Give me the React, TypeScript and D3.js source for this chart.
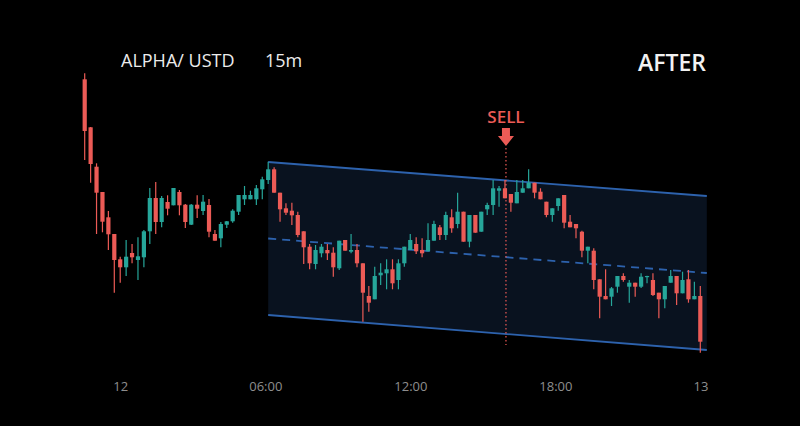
import React from "react";
import * as d3 from "d3";

// ---- Data (price units) ----
const opens = [320.7,272.7,233.3,208,182.7,166,140.7,132.7,147,140,142.7,168.7,202,178,198,194.7,208,195.3,175.3,195.3,
189,195,166,161.7,175.3,178.7,188.3,200.7,200.7,200.7,210.7,220,230.7,207.3,191.7,189.3,185,168.7,153.3,136,
146.7,150,147.3,131.7,160,148.3,150,136.7,104,100.7,124.7,126.7,130.7,120,136.7,150,156,150,148.7,159.3,
172.7,165,182.7,176,188.3,158.3,185,168.3,190.7,195,209.3,211.7,206,196.7,207.3,211.7,217.3,208.3,198.3,185,
194,205,178.3,176,168.3,149.3,149.3,120.7,104,103.3,113.3,124,113.3,117.3,113.3,123,120,107.3,100.7,117.3,
124,106.7,120.7,100.7,104];
const highs = [326.7,273,236.7,208,189,166,143.3,160,156,162.7,170,212,218,204,204.7,212,210,196,196,204.7,
205,201,170,178,179,190.7,205,214,209.3,215,223.3,238.3,232.7,207.3,196.7,197.3,188.3,168.7,156,155,
156,156,152.7,159.3,160,166,156,136.7,114,133.3,136.7,140.7,140.7,140.7,153.3,166,162.7,161.7,176.7,179.3,
175,188.3,190.7,207.3,188.3,185,185,188.3,197.3,220,214,220,206,220,220,230.7,217.3,211.7,198.3,191.7,
201.7,205,185,176,169.3,153.3,151.7,120.7,130.7,113,124,126.7,120,117.3,126.7,124.3,126.7,107.3,114,130,
124,128.3,130,118.3,114];
const lows = [240,217.3,166,167.7,150,107.3,117.3,124,136.7,120,132.7,156,166,172.7,184.7,194.7,184.7,172,175,182,
185,162.7,159.3,152.7,172,177.3,185,195,200.7,195,200.7,216,207.3,178.3,185,175,162.7,136,130.7,130.7,
142.7,140,123.3,130,149.3,146.7,132.7,78.3,88.3,100.7,115,110.7,110.7,110.7,133.3,150,146,142.7,148.7,159.3,
160,160,167.3,171.7,158.3,152.7,167.3,168.3,185,185,193.3,201.7,188.3,196.7,207.3,211.7,201.7,200.7,182.7,178.3,
189.3,171.7,172.7,161.7,142.7,136.7,110.7,81.7,100.7,94,107.3,118.3,97.3,103.3,112,116.7,104,81.7,91.7,117.3,
95,106.7,97.3,100.7,47.3];
const closes = [269,236,207.3,178.3,165.7,140,132.7,143.3,142.7,143.7,168.7,202,178,202,191.3,212,194.7,178,195.3,191.3,
198.3,168.3,159.3,176,178.7,189.3,205,205,205,211.7,220.7,230.7,207.3,190.7,187.3,184.7,165,152.7,136.7,150,
153.3,146.7,132.7,159.3,149.3,150,136.7,107.3,97.3,124,127.3,130.7,116.7,136.7,153.3,160,148.7,146.7,160,176,
165,185,171.7,188.3,158.3,185,167.3,188.3,195,211.7,211.7,201.7,197.3,208,211.7,217.3,207.3,200.7,185,191.7,
201.7,177.3,172.7,171.7,149.3,153.3,120,103.3,100.7,111.7,124,120,117.3,113.3,123.3,124,105,100.7,114,124,
106.7,120,100.7,104,58.3];

const tickLabels = ["12", "06:00", "12:00", "18:00", "13"];
const tickIndex = [6.1, 30.6, 55.1, 79.6, 104.1];

// descending channel (candle index, price)
const channelIdx = [31, 105.1];
const channelUpper = [238, 204];
const channelLower = [85, 50];

const sellIndex = 71;
const sellLineBottom = 55;

const W = 800;
const H = 426;

export default function App() {
  const n = opens.length;
  const x = d3.scaleLinear().domain([0, n - 1]).range([84.7, 700.3]);
  const y = d3.scaleLinear().domain([0, 400]).range([400, 0]);

  const up = "#26a69a";
  const down = "#ec5b56";
  const blue = "#2d62ad";
  const bodyW = 4.2;

  const mid = [
    (channelUpper[0] + channelLower[0]) / 2,
    (channelUpper[1] + channelLower[1]) / 2,
  ];

  const poly = [
    [x(channelIdx[0]), y(channelUpper[0])],
    [x(channelIdx[1]), y(channelUpper[1])],
    [x(channelIdx[1]), y(channelLower[1])],
    [x(channelIdx[0]), y(channelLower[0])],
  ];
  const line = d3.line<[number, number]>();

  const sx = x(sellIndex) + 1;

  return (
    <svg
      width={W}
      height={H}
      style={{ position: "absolute", left: 0, top: 0, background: "#000" }}
      fontFamily="'Open Sans', sans-serif"
    >
      <rect x={0} y={0} width={W} height={H} fill="#000" />

      {/* channel */}
      <path d={line(poly as any) + "Z"} fill="#09121f" />
      <line x1={x(channelIdx[0])} y1={y(channelUpper[0])} x2={x(channelIdx[1])} y2={y(channelUpper[1])} stroke={blue} strokeWidth={1.8} />
      <line x1={x(channelIdx[0])} y1={y(channelLower[0])} x2={x(channelIdx[1])} y2={y(channelLower[1])} stroke={blue} strokeWidth={1.8} />
      <line x1={x(channelIdx[0])} y1={y(mid[0])} x2={x(channelIdx[1])} y2={y(mid[1])} stroke={blue} strokeWidth={1.8} strokeDasharray="8 6" />

      {/* sell marker line */}
      <line x1={sx} x2={sx} y1={148} y2={y(sellLineBottom)} stroke={down} strokeWidth={1.2} strokeDasharray="1.5 2.5" />

      {/* candles */}
      {opens.map((o, i) => {
        const c = closes[i];
        const col = c >= o ? up : down;
        const cx = x(i);
        const top = y(Math.max(o, c));
        const bot = y(Math.min(o, c));
        return (
          <g key={i}>
            <line x1={cx} x2={cx} y1={y(highs[i])} y2={y(lows[i])} stroke={col} strokeWidth={1.2} />
            <rect x={cx - bodyW / 2} y={top} width={bodyW} height={Math.max(1.2, bot - top)} fill={col} />
          </g>
        );
      })}

      {/* SELL label + arrow */}
      <text x={sx} y={122.5} textAnchor="middle" fill={down} fontSize={17} fontWeight={600}>SELL</text>
      <path
        d={`M${sx - 4},128 L${sx + 4},128 L${sx + 4},136 L${sx + 8},136 L${sx},146 L${sx - 8},136 L${sx - 4},136 Z`}
        fill={down}
      />

      {/* titles */}
      <text x={121} y={67} fill="#ececec" fontSize={18} fontWeight={500}>ALPHA/ USTD</text>
      <text x={265} y={67} fill="#ececec" fontSize={18} fontWeight={500}>15m</text>
      <text x={706} y={71} textAnchor="end" fill="#f2f2f2" fontSize={23} fontWeight={600}>AFTER</text>

      {/* x axis labels */}
      {tickLabels.map((t, i) => (
        <text key={t} x={x(tickIndex[i])} y={391} textAnchor="middle" fill="#8e8e8e" fontSize={13}>
          {t}
        </text>
      ))}
    </svg>
  );
}
